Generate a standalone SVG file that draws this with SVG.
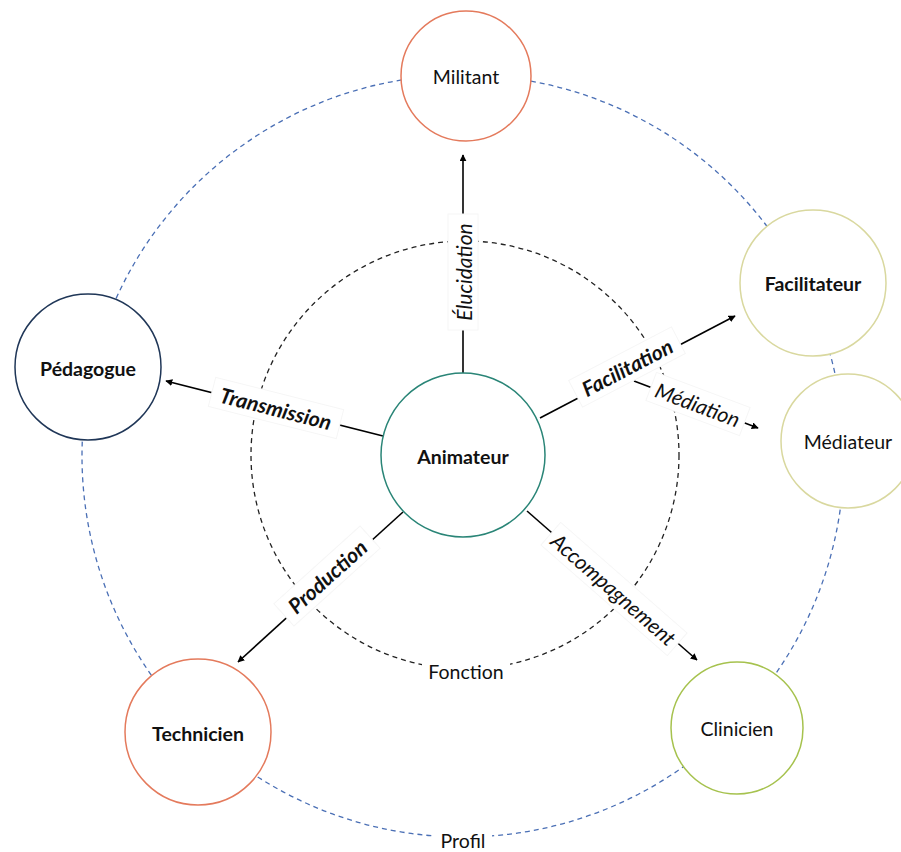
<svg xmlns="http://www.w3.org/2000/svg" width="901" height="852" viewBox="0 0 901 852">
<style>
text{font-family:Lato,"Open Sans","Liberation Sans",sans-serif;fill:#111;}
.node{font-size:19.5px;text-anchor:middle;dominant-baseline:central;}
.b{font-weight:bold;}
.lbl{font-size:21px;font-style:italic;text-anchor:middle;dominant-baseline:central;}
.conn{stroke:#000;stroke-width:1.6;fill:none;}
.lblbg{fill:#fff;stroke:#f6f6f6;stroke-width:1;}
</style>
<defs>
<marker id="arr" viewBox="0 0 10 10" refX="9" refY="5" markerWidth="7" markerHeight="7" markerUnits="userSpaceOnUse" orient="auto">
<path d="M0,0 L10,5 L0,10 z" fill="#000"/>
</marker>
</defs>
<rect width="901" height="852" fill="#fff"/>
<g id="rings">
<circle cx="463" cy="456" r="381" fill="none" stroke="#4a6fb5" stroke-width="1.3" stroke-dasharray="5,4"/>
<circle cx="465" cy="455" r="214" fill="none" stroke="#222" stroke-width="1.3" stroke-dasharray="5,4"/>
<rect x="422" y="659" width="88" height="24" fill="#fff"/>
<text x="466" y="671" class="node">Fonction</text>
<rect x="434" y="830" width="58" height="22" fill="#fff"/>
<text x="463" y="840" class="node">Profil</text>
</g>
<g id="connectors">
<line class="conn" x1="463" y1="373" x2="463" y2="155" marker-end="url(#arr)"/>
<line class="conn" x1="540" y1="418" x2="735" y2="316" marker-end="url(#arr)"/>
<line class="conn" x1="634" y1="381" x2="758" y2="428" marker-end="url(#arr)"/>
<line class="conn" x1="383" y1="436" x2="166" y2="381" marker-end="url(#arr)"/>
<line class="conn" x1="403" y1="512" x2="238" y2="662" marker-end="url(#arr)"/>
<line class="conn" x1="527" y1="511" x2="697" y2="660" marker-end="url(#arr)"/>
<g transform="translate(463,272) rotate(-90)">
<rect class="lblbg" x="-58" y="-15" width="116" height="30"/>
<text class="lbl" x="0" y="0">Élucidation</text>
</g>
<g transform="translate(627,367) rotate(-27.6)">
<rect class="lblbg" x="-58" y="-15" width="116" height="30"/>
<text class="lbl b" x="0" y="0">Facilitation</text>
</g>
<g transform="translate(698,404) rotate(20.6)">
<rect class="lblbg" x="-50" y="-15" width="100" height="30"/>
<text class="lbl" x="0" y="0">Médiation</text>
</g>
<g transform="translate(276,408) rotate(14.2)">
<rect class="lblbg" x="-66" y="-15" width="132" height="30"/>
<text class="lbl b" x="0" y="0">Transmission</text>
</g>
<g transform="translate(327,576) rotate(-42)">
<rect class="lblbg" x="-58" y="-15" width="116" height="30"/>
<text class="lbl b" x="0" y="0">Production</text>
</g>
<g transform="translate(614,589) rotate(41.2)">
<rect class="lblbg" x="-84" y="-15" width="168" height="30"/>
<text class="lbl" x="0" y="0">Accompagnement</text>
</g>
</g>
<g id="animateur">
<circle cx="463" cy="455" r="82" fill="#fff" stroke="#2a8577" stroke-width="1.5"/>
<text x="463" y="456" class="node b">Animateur</text>
</g>
<g id="militant">
<circle cx="466" cy="76" r="65" fill="#fff" stroke="#e47a5c" stroke-width="1.5"/>
<text x="466" y="76" class="node">Militant</text>
</g>
<g id="facilitateur">
<circle cx="813" cy="283" r="73" fill="#fff" stroke="#d9d89f" stroke-width="1.5"/>
<text x="813" y="283" class="node b">Facilitateur</text>
</g>
<g id="mediateur">
<circle cx="848" cy="441" r="67" fill="#fff" stroke="#d9d89f" stroke-width="1.5"/>
<text x="848" y="441" class="node">Médiateur</text>
</g>
<g id="clinicien">
<circle cx="737" cy="728" r="66" fill="#fff" stroke="#a6c24e" stroke-width="1.5"/>
<text x="737" y="728" class="node">Clinicien</text>
</g>
<g id="technicien">
<circle cx="198" cy="732" r="73" fill="#fff" stroke="#e47a5c" stroke-width="1.5"/>
<text x="198" y="733" class="node b">Technicien</text>
</g>
<g id="pedagogue">
<circle cx="88" cy="367" r="73" fill="#fff" stroke="#1f3657" stroke-width="1.5"/>
<text x="88" y="368" class="node b">Pédagogue</text>
</g>
</svg>
